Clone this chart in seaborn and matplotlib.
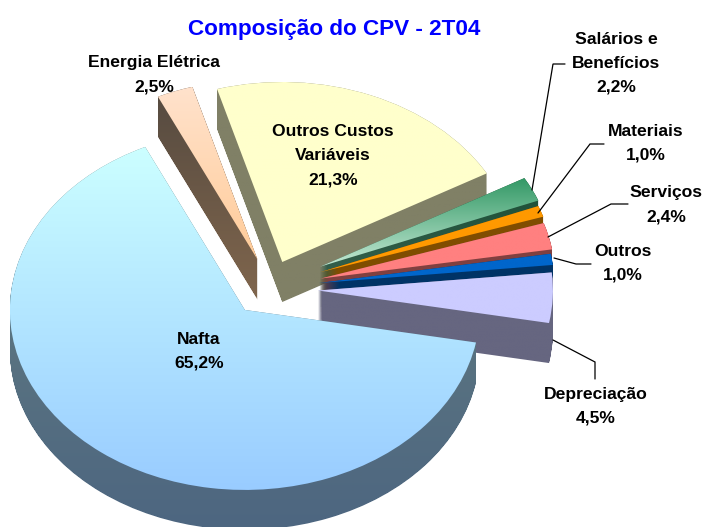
#!/usr/bin/env python3

import numpy as np
import matplotlib
matplotlib.use("Agg")
import matplotlib.pyplot as plt
from matplotlib.patches import PathPatch
from matplotlib.path import Path
import seaborn as sns

categories = ["Outros Custos Variáveis", "Energia Elétrica", "Nafta", "Depreciação",
              "Outros", "Serviços", "Materiais", "Salários e Benefícios"]
values = [21.3, 2.5, 65.2, 4.5, 1.0, 2.4, 1.0, 2.2]
explode = [0.138, 0.15, 0.175, 0.204, 0.21, 0.22, 0.225, 0.235]
# small extra drop of the fan slices, in pixels
drop = [0, 0, 0, 4, 3, 3, 1, 0]

# top and bottom colour of each face
top_colors = ["#ffffcc", "#ffe2cc", "#ccffff", "#ccccff", "#0066cc", "#ff8080", "#ff9900", "#339966"]
low_colors = ["#ffffcc", "#ffcc99", "#99ccff", "#ccccff", "#0066cc", "#ff8080", "#ff9900", "#c4e8d4"]
wall_top = ["#808066", "#554a40", "#668080", "#666680", "#003366", "#804040", "#804d00", "#1a4d33"]
wall_low = ["#808066", "#80664d", "#4d6680", "#666680", "#003366", "#804040", "#804d00", "#3d6655"]

# back to front
draw_order = [1, 0, 7, 6, 5, 4, 3, 2]

sns.set_theme(style="white")
plt.rcParams['font.family'] = ['Liberation Sans', 'DejaVu Sans']

W, H = 705, 527
CX, CY, RX, RY = 270, 285, 235, 180
DEPTH = 40 / RY

fig = plt.figure(figsize=(W / 100, H / 100), dpi=100)
ax = fig.add_axes([0, 0, 1, 1])
wedges, _ = ax.pie(values, explode=explode, startangle=29.5, counterclock=True, radius=1.0)


def gradient(path, c1, c2, z):
    # vertical gradient clipped to the slice outline
    box = path.get_extents()
    cmap = sns.blend_palette([c1, c2], as_cmap=True)
    im = ax.imshow(np.linspace(0, 1, 256).reshape(-1, 1), cmap=cmap, vmin=0, vmax=1, aspect='auto',
                   extent=(box.x0, box.x1, box.y0, box.y1), origin='upper', zorder=z)
    im.set_clip_path(PathPatch(path, transform=ax.transData))


for z, i in enumerate(draw_order):
    wedge = wedges[i]
    wedge.set_visible(False)
    face = wedge.get_path().transformed(wedge.get_patch_transform())
    face = Path(face.vertices + [0, -drop[i] / RY], face.codes)
    layers = []
    for d in np.linspace(0, DEPTH, 41):
        layers.append(Path(face.vertices + [0, -d], face.codes))
    wall = Path.make_compound_path(*layers)
    gradient(wall, wall_top[i], wall_low[i], z * 2 + 1)
    gradient(face, top_colors[i], low_colors[i], z * 2 + 2)

ax.set_xlim(-CX / RX, (W - CX) / RX)
ax.set_ylim((CY - H) / RY, CY / RY)
ax.set_aspect('auto')
ax.axis('off')

# overlay in picture pixels for the texts and leader lines
over = fig.add_axes([0, 0, 1, 1], facecolor='none')
over.set_xlim(0, W)
over.set_ylim(H, 0)
over.axis('off')

over.text(334, 29.5, "Composição do CPV - 2T04", color="#0000ff", fontsize=16.2, fontweight='bold',
          ha='center', va='center')


def label(x, y, lines):
    for k, s in enumerate(lines):
        over.text(x, y + k * 24, s, color='black', fontsize=12.6, fontweight='bold', ha='center', va='center')


label(154, 62, ["Energia Elétrica"])
over.text(154, 87, "2,5%", color='black', fontsize=12.6, fontweight='bold', ha='center', va='center')
label(333, 132, ["Outros Custos", "Variáveis", "21,3%"])
label(199, 339, ["Nafta", "65,2%"])
label(616, 39, ["Salários e", "Benefícios", "2,2%"])
label(646, 131, ["Materiais", "1,0%"])
label(666, 193, ["Serviços", "2,4%"])
label(623, 251, ["Outros", "1,0%"])
label(596, 394, ["Depreciação", "4,5%"])

leader_x = [[565, 553, 532], [604, 590, 538], [628, 611, 548], [591, 576, 554], [595, 595, 553]]
leader_y = [[64, 64, 190], [144, 144, 213], [204, 204, 237], [264, 264, 258], [379, 362, 340]]
for xs, ys in zip(leader_x, leader_y):
    over.plot(xs, ys, color='black', lw=0.9, solid_joinstyle='miter')

fig.savefig("out.png", dpi=100)
